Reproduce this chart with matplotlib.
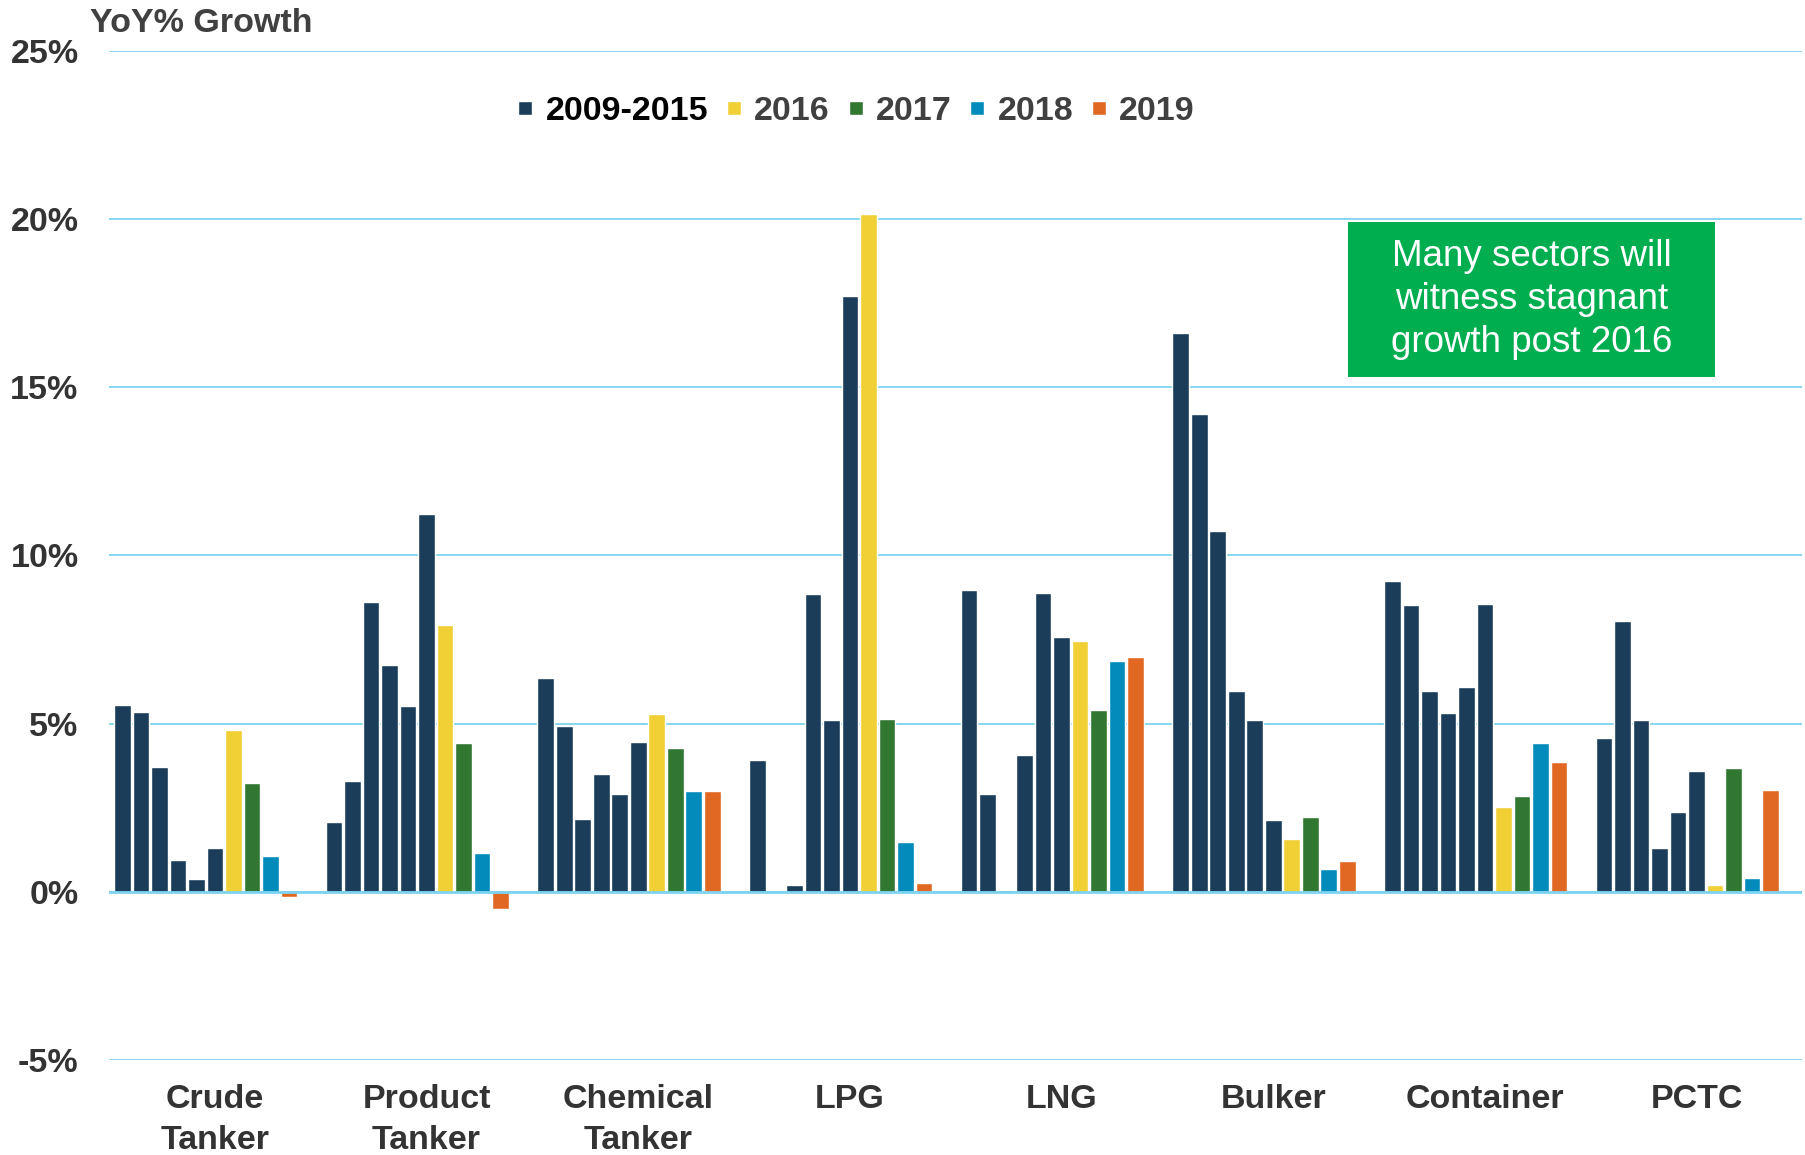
import numpy as np
import matplotlib.pyplot as plt
from matplotlib.lines import Line2D
from matplotlib.patches import Rectangle

plt.rcParams['font.family'] = ['Liberation Sans', 'DejaVu Sans']

categories = ['Crude\nTanker', 'Product\nTanker', 'Chemical\nTanker', 'LPG',
              'LNG', 'Bulker', 'Container', 'PCTC']

# six yearly values per sector for the 2009-2015 period
hist_2009_2015 = [
    [5.54, 5.35, 3.70, 0.94, 0.38, 1.29],
    [2.06, 3.28, 8.61, 6.73, 5.51, 11.22],
    [6.34, 4.94, 2.17, 3.51, 2.90, 4.46],
    [3.93, 0.00, 0.20, 8.86, 5.11, 17.71],
    [8.96, 2.92, 0.06, 4.05, 8.87, 7.57],
    [16.62, 14.21, 10.72, 5.97, 5.10, 2.12],
    [9.24, 8.52, 5.98, 5.31, 6.08, 8.54],
    [4.57, 8.05, 5.10, 1.30, 2.38, 3.58],
]
growth_2016 = [4.81, 7.92, 5.27, 20.16, 7.46, 1.56, 2.53, 0.20]
growth_2017 = [3.24, 4.43, 4.26, 5.14, 5.41, 2.22, 2.84, 3.69]
growth_2018 = [1.07, 1.14, 2.98, 1.48, 6.87, 0.69, 4.41, 0.42]
growth_2019 = [-0.15, -0.50, 2.98, 0.26, 6.97, 0.91, 3.86, 3.01]

forecast_labels = ['2016', '2017', '2018', '2019']
hist_color = '#1B3D59'
forecast_colors = ['#F0D035', '#317732', '#028BBB', '#E06823']
grid_color = '#7DD3F0'

fig = plt.figure(figsize=(18.06, 11.55), dpi=100)
ax = fig.add_axes([0.0604, 0.0823, 0.9376, 0.8738])

x = np.arange(len(categories))
step = 0.0874
width = 0.079

hist = np.array(hist_2009_2015)
for j in range(hist.shape[1]):
    ax.bar(x + (j - 5) * step, hist[:, j], width, color=hist_color,
           edgecolor='white', linewidth=1, zorder=2)

for k, vals in enumerate([growth_2016, growth_2017, growth_2018, growth_2019]):
    ax.bar(x + (k + 1) * step, vals, width, color=forecast_colors[k],
           edgecolor='white', linewidth=1, zorder=2)

ax.set_xlim(-0.5, 7.5)
ax.set_ylim(-5, 25)
yt = np.arange(-5, 26, 5)
ax.set_yticks(yt)
ax.set_yticklabels([f'{v}%' for v in yt])
ax.set_xticks(x)
ax.set_xticklabels(categories, linespacing=1.4)
for v in yt:
    ax.axhline(v, color=grid_color, lw=1.3, zorder=1)
ax.axhline(0, color=grid_color, lw=2.0, zorder=3)

for s in ax.spines.values():
    s.set_visible(False)
ax.tick_params(axis='y', length=0, pad=22, labelsize=24.5, labelcolor='#333333')
ax.tick_params(axis='x', length=0, pad=17.5, labelsize=24.5, labelcolor='#333333')
for t in ax.get_yticklabels() + ax.get_xticklabels():
    t.set_fontweight('bold')

fig.text(0.0498, 0.972, 'YoY% Growth', fontsize=24.5, fontweight='bold',
         color='#404040', va='baseline', ha='left')

handles = [Line2D([], [], marker='s', ls='none', markersize=10,
                  color=hist_color, markeredgecolor='white')]
handles += [Line2D([], [], marker='s', ls='none', markersize=10,
                   color=c, markeredgecolor='white') for c in forecast_colors]
leg = ax.legend(handles, ['2009-2015'] + forecast_labels, ncol=5, frameon=False,
                loc='center', bbox_to_anchor=(0.441, 0.940), handlelength=0.5,
                handletextpad=0.35, columnspacing=0.5,
                prop={'weight': 'bold', 'size': 24.5})
for i, t in enumerate(leg.get_texts()):
    t.set_color('black' if i == 0 else '#404040')

ax.add_patch(Rectangle((0.7314, 0.6767), 0.2172, 0.1536, transform=ax.transAxes,
                       facecolor='#00AD4F', edgecolor='none', zorder=4))
ax.text(0.840, 0.7535, 'Many sectors will\nwitness stagnant\ngrowth post 2016',
        transform=ax.transAxes, ha='center', va='center', color='white',
        fontsize=26.5, linespacing=1.3, zorder=5)

fig.savefig('out.png', dpi=100)
